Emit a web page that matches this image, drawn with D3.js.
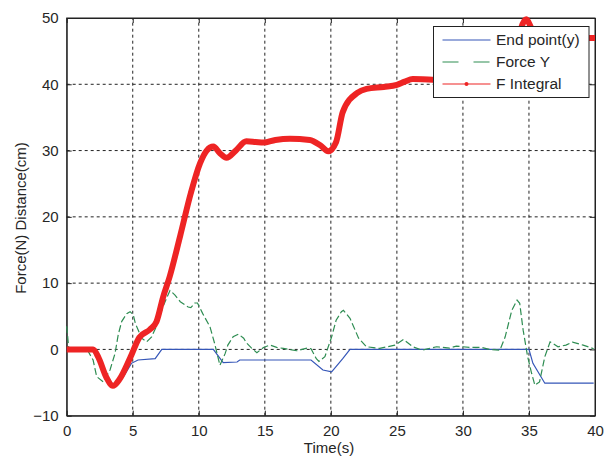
<!DOCTYPE html>
<html>
<head>
<meta charset="utf-8">
<script src="https://d3js.org/d3.v7.min.js"></script>
<style>
    body { margin: 0; background: #ffffff; }
    text { font-family: "Liberation Sans", Arial, sans-serif; }
</style>
</head>
<body>
<div id="chart"></div>
<script>

/* Values: time (s) and value for each series */
let endT = [0, 2.0, 2.5, 3.0, 3.5, 4.0, 4.3, 4.9, 5.4, 6.7, 7.2, 11.1, 11.85, 12.9, 13.1, 18.5, 19.4, 20.06, 20.9, 21.45, 35.0, 35.3, 36.2, 39.9];
let endV = [0, 0, -1.5, -3.8, -5.3, -4.8, -4.1, -2.1, -1.6, -1.4, 0, 0, -2.0, -1.9, -1.6, -1.6, -3.1, -3.4, -1.4, 0, 0, -2.1, -5.1, -5.1];

let forceT = [0, 0.15, 0.5, 1.0, 1.6, 2.0, 2.27, 2.77, 3.28, 3.66, 3.9, 4.16, 4.54, 4.8, 5.04, 5.2, 5.42, 5.67, 6.06, 6.43,
    6.8, 7.3, 7.82, 8.2, 8.6, 9.2, 9.4, 9.7, 9.9, 10.3, 10.85, 11.2, 11.6, 12.0, 12.2, 12.6, 13.0, 13.4, 13.6, 14.0,
    14.4, 14.9, 15.4, 15.9, 16.4, 17.4, 18.2, 18.5, 18.9, 19.1, 19.55, 20.06, 20.4, 20.8, 20.95, 21.45, 22.1, 22.7, 23.7, 24.85,
    25.5, 26.2, 26.9, 28.0, 29.0, 29.5, 30.5, 31.4, 32.0, 32.8, 33.2, 33.7, 34.1, 34.3, 34.56, 34.9, 35.2, 35.45, 35.8, 36.2,
    36.6, 37.2, 37.8, 38.3, 39.1, 39.9];
let forceV = [3.5, 0.3, 0, 0.1, -0.2, -1.6, -4.1, -4.9, -3.1, -0.6, 2.2, 4.2, 5.4, 5.7, 5.2, 3.9, 2.9, 1.7, 1.15, 1.9,
    3.5, 6.5, 8.9, 8.2, 7.2, 6.4, 6.3, 7.0, 7.0, 5.4, 3.4, 0.9, -2.4, -0.6, 0.65, 1.9, 2.3, 1.7, 1.0, 0.2,
    -0.5, 0.3, 0.65, 0.3, 0.15, -0.2, 0.2, 0.1, -1.4, -1.8, -1.1, 1.9, 4.4, 5.7, 5.9, 4.7, 1.7, 0.4, 0.15, 0.65,
    1.5, 0.4, -0.1, 0.4, 0.2, 0.5, 0.3, 0.3, 0, -0.1, 1.9, 5.9, 7.45, 6.95, 2.9, -1.1, -3.6, -5.4, -4.9, -1.1,
    1.15, 0.4, 0.65, 1.1, 0.65, 0.1];

let integT = [0, 2.0, 2.4, 3.0, 3.5, 4.0, 4.8, 5.5, 6.3, 6.8, 7.3, 7.8, 8.6, 9.4, 10.1, 10.6, 11.1, 11.6, 12.1, 12.8,
    13.6, 14.3, 14.9, 15.8, 16.9, 18.4, 19.2, 19.8, 20.4, 20.9, 22.0, 22.7, 24.0, 25.0, 25.6, 26.2, 27.7, 30, 33, 34.0,
    34.4, 34.8, 35.2, 35.6, 36.5, 40];
let integV = [0, 0, -1.2, -4.2, -5.5, -4.5, -1.3, 1.8, 3.0, 4.2, 7.9, 11.0, 17.2, 23.6, 28.1, 30.0, 30.6, 29.6, 28.9, 30.0,
    31.4, 31.3, 31.2, 31.6, 31.8, 31.6, 30.8, 29.9, 31.3, 35.8, 38.7, 39.3, 39.6, 39.9, 40.4, 40.8, 40.7, 40.8, 41.2, 44,
    48.4, 49.8, 48.4, 47.2, 47.0, 47.0];

let xTicks = [0, 5, 10, 15, 20, 25, 30, 35, 40];
let yTicks = [-10, 0, 10, 20, 30, 40, 50];
let legendNames = ["End point(y)", "Force Y", "F Integral"];

/* Figure size and axes box */
let width = 616;
let height = 458;
let margin = { left: 66.7, right: 21, top: 18, bottom: 42.3 };

let svg = d3.select("#chart")
    .append("svg")
    .attr("width", width)
    .attr("height", height);

let xScale = d3.scaleLinear()
    .domain([0, 40])
    .range([margin.left, width - margin.right]);

let yScale = d3.scaleLinear()
    .domain([-10, 50])
    .range([height - margin.bottom, margin.top]);

/* Dotted grid lines like matlab "grid on" */
let grid = svg.append("g");
grid.selectAll("line.vgrid")
    .data(xTicks.slice(1, -1))
    .enter()
    .append("line")
    .attr("x1", d => xScale(d)).attr("x2", d => xScale(d))
    .attr("y1", yScale(-10)).attr("y2", yScale(50))
    .attr("stroke", "#222").attr("stroke-width", 1)
    .attr("stroke-dasharray", "3,3");
grid.selectAll("line.hgrid")
    .data(yTicks.slice(1, -1))
    .enter()
    .append("line")
    .attr("y1", d => yScale(d)).attr("y2", d => yScale(d))
    .attr("x1", xScale(0)).attr("x2", xScale(40))
    .attr("stroke", "#222").attr("stroke-width", 1)
    .attr("stroke-dasharray", "3,3");

/* Axes with inward ticks on all four sides */
let xAxis = d3.axisBottom(xScale).tickValues(xTicks).tickSizeInner(-5).tickSizeOuter(0).tickPadding(10);
let yAxis = d3.axisLeft(yScale).tickValues(yTicks).tickSizeInner(-5).tickSizeOuter(0).tickPadding(8);

svg.append("g")
    .attr("transform", "translate(0," + yScale(-10) + ")")
    .call(xAxis);
svg.append("g")
    .attr("transform", "translate(" + xScale(0) + ",0)")
    .call(yAxis);

svg.append("g")
    .attr("transform", "translate(0," + yScale(50) + ")")
    .call(d3.axisTop(xScale).tickValues(xTicks).tickSizeInner(-5).tickSizeOuter(0).tickFormat(""));
svg.append("g")
    .attr("transform", "translate(" + xScale(40) + ",0)")
    .call(d3.axisRight(yScale).tickValues(yTicks).tickSizeInner(-5).tickSizeOuter(0).tickFormat(""));

svg.selectAll(".domain").attr("stroke", "#222");
svg.selectAll(".tick line").attr("stroke", "#222");
svg.selectAll(".tick text")
    .style("font-size", "15px")
    .attr("fill", "#262626");

/* Box around the axes */
svg.append("rect")
    .attr("x", xScale(0)).attr("y", yScale(50))
    .attr("width", xScale(40) - xScale(0))
    .attr("height", yScale(-10) - yScale(50))
    .attr("fill", "none").attr("stroke", "#222").attr("stroke-width", 1);

/* Axis labels */
svg.append("text")
    .attr("x", 329).attr("y", 453)
    .attr("text-anchor", "middle")
    .style("font-size", "15px")
    .attr("fill", "#262626")
    .text("Time(s)");

svg.append("text")
    .attr("transform", "translate(26," + 218 + ") rotate(-90)")
    .attr("text-anchor", "middle")
    .style("font-size", "15px")
    .attr("fill", "#262626")
    .text("Force(N) Distance(cm)");

/* Lines */
function pairs(ts, vs) {
    return ts.map((t, i) => [t, vs[i]]);
}

let line = d3.line()
    .x(d => xScale(d[0]))
    .y(d => yScale(d[1]));

let smooth = d3.line()
    .curve(d3.curveMonotoneX)
    .x(d => xScale(d[0]))
    .y(d => yScale(d[1]));

svg.append("path")
    .datum(pairs(endT, endV))
    .attr("d", line)
    .attr("fill", "none")
    .attr("stroke", "#3556b8")
    .attr("stroke-width", 1.2);

svg.append("path")
    .datum(pairs(forceT, forceV))
    .attr("d", line)
    .attr("fill", "none")
    .attr("stroke", "#2e8d52")
    .attr("stroke-width", 1.2)
    .attr("stroke-dasharray", "7,3");

svg.append("path")
    .datum(pairs(integT, integV))
    .attr("d", smooth)
    .attr("fill", "none")
    .attr("stroke", "#ee2424")
    .attr("stroke-width", 6)
    .attr("stroke-linejoin", "round");

/* Legend box in the top right corner */
let legend = svg.append("g");
legend.append("rect")
    .attr("x", 433.5).attr("y", 26.5)
    .attr("width", 155.5).attr("height", 71)
    .attr("fill", "#ffffff").attr("stroke", "#222").attr("stroke-width", 1);

let legendColors = ["#3556b8", "#2e8d52", "#ee2424"];
let legendDash = [null, "16,15", null];

legendNames.forEach((name, i) => {
    let cy = 40 + i * 22;
    legend.append("line")
        .attr("x1", 442.5).attr("x2", 490.5)
        .attr("y1", cy).attr("y2", cy)
        .attr("stroke", legendColors[i])
        .attr("stroke-width", 1.2)
        .attr("stroke-dasharray", legendDash[i]);
    if (i == 2) {
        legend.append("circle")
            .attr("cx", 466.5).attr("cy", cy).attr("r", 2)
            .attr("fill", legendColors[i]);
    }
    legend.append("text")
        .attr("x", 496).attr("y", cy)
        .attr("dy", "0.35em")
        .style("font-size", "15.5px")
        .attr("fill", "#262626")
        .text(name);
});

</script>
</body>
</html>
